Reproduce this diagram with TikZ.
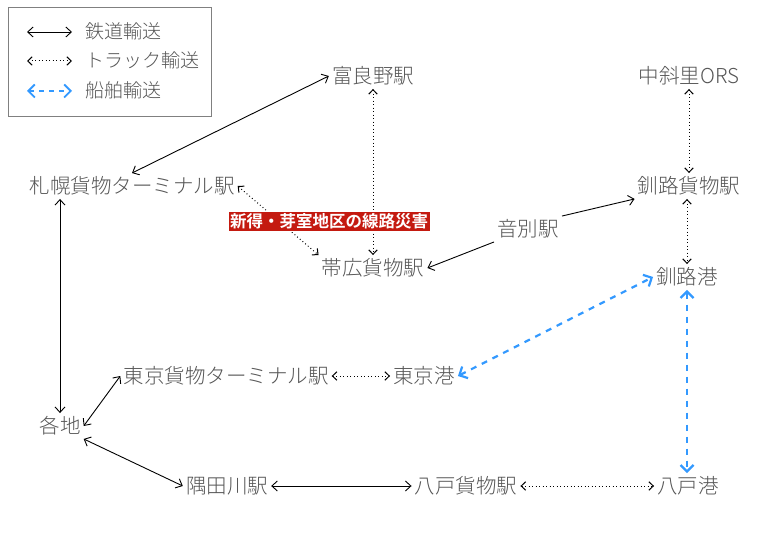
\documentclass[tikz,border=0pt]{standalone}
\usepackage{fontspec}
\setmainfont{Noto Sans CJK JP}[UprightFont=* Light, BoldFont=* Bold]
\usetikzlibrary{arrows.meta}
\definecolor{txtgray}{HTML}{555555}
\definecolor{shipblue}{HTML}{3399FF}
\definecolor{warnred}{HTML}{C41A10}
\tikzset{
  stn/.style={text=txtgray, font=\fontsize{20.5}{24}\selectfont, inner sep=3pt, text height=17.5pt, text depth=2pt},
  rail/.style={draw=black, line width=0.9pt, {Straight Barb[length=5.5pt,width=10pt]}-{Straight Barb[length=5.5pt,width=10pt]}},
  truck/.style={draw=black, line width=1pt, dash pattern=on 0.9pt off 2.6pt, {Straight Barb[length=4.5pt,width=8.5pt]}-{Straight Barb[length=4.5pt,width=8.5pt]}},
  ship/.style={draw=shipblue, line width=2.2pt, dash pattern=on 6pt off 6pt, {Straight Barb[length=6.5pt,width=13pt]}-{Straight Barb[length=6.5pt,width=13pt]}},
  legtxt/.style={text=txtgray, font=\fontsize{19}{22}\selectfont, anchor=west, inner sep=0pt, text height=16pt, text depth=2pt},
  warn/.style={fill=warnred, draw=white, line width=0.6pt, text=white, font=\bfseries\fontsize{16.5}{19}\selectfont, inner sep=2pt, text height=14pt, text depth=2pt}
}
\begin{document}
\begin{tikzpicture}[x=1pt,y=-1pt]
\useasboundingbox (0,0) rectangle (775,553);
% legend
\node[draw=gray, line width=0.8pt, minimum width=203pt, minimum height=109pt, inner sep=0pt] (legend) at (109.5,61.5) {};
\coordinate (l1a) at (27,32); \coordinate (l1b) at (72,32);
\coordinate (l2a) at (27,61); \coordinate (l2b) at (72,61);
\coordinate (l3a) at (27,91); \coordinate (l3b) at (72,91);
\draw[rail] (l1a) -- (l1b);
\draw[truck] (l2a) -- (l2b);
\draw[ship, line width=1.8pt, dash pattern=on 5pt off 5pt] (l3a) -- (l3b);
\node[legtxt] (lt1) at (85,32) {鉄道輸送};
\node[legtxt] (lt2) at (85,61) {トラック輸送};
\node[legtxt] (lt3) at (85,91) {船舶輸送};
% stations
\node[stn] (furano) at (373,76) {富良野駅};
\node[stn] (nakashari) at (689,76) {中斜里ORS};
\node[stn] (sapporo) at (132,186) {札幌貨物ターミナル駅};
\node[stn] (kushirofr) at (689,186) {釧路貨物駅};
\node[stn] (onbetsu) at (528,229) {音別駅};
\node[stn] (obihiro) at (373,268) {帯広貨物駅};
\node[stn] (kushiroport) at (687,277) {釧路港};
\node[stn] (tokyofr) at (226,376) {東京貨物ターミナル駅};
\node[stn] (tokyoport) at (424,376) {東京港};
\node[stn] (kakuchi) at (60,426) {各地};
\node[stn] (sumida) at (227,486) {隅田川駅};
\node[stn] (hachifr) at (466,486) {八戸貨物駅};
\node[stn] (hachiport) at (688,486) {八戸港};
% connectors
\draw[rail] (sapporo.north) -- (furano.west);
\draw[rail] (sapporo.south -| kakuchi) -- (kakuchi.north);
\draw[truck] (sapporo.east) -- (obihiro.north west);
\draw[truck] (furano.south) -- (obihiro.north);
\draw[rail, {Straight Barb[length=5.5pt,width=10pt]}-] (obihiro.east) -- (onbetsu.south west);
\draw[rail, -{Straight Barb[length=5.5pt,width=10pt]}] (onbetsu.north east) -- (kushirofr.south west);
\draw[truck] (nakashari.south -| kushirofr.south) -- (kushirofr.north);
\draw[truck] (kushirofr.south -| kushiroport) -- (kushiroport.north);
\draw[ship] (tokyoport.east) -- (kushiroport.west);
\draw[ship] (kushiroport.south) -- (hachiport.north -| kushiroport);
\draw[truck] (tokyofr.east) -- (tokyoport.west);
\draw[rail] (kakuchi.east) -- (tokyofr.west);
\draw[rail] (kakuchi.south east) -- (sumida.west);
\draw[rail] (sumida.east) -- (hachifr.west);
\draw[truck] (hachifr.east) -- (hachiport.west);
% warning label
\node[warn] (disaster) at (329,221) {新得・芽室地区の線路災害};
\end{tikzpicture}
\end{document}
